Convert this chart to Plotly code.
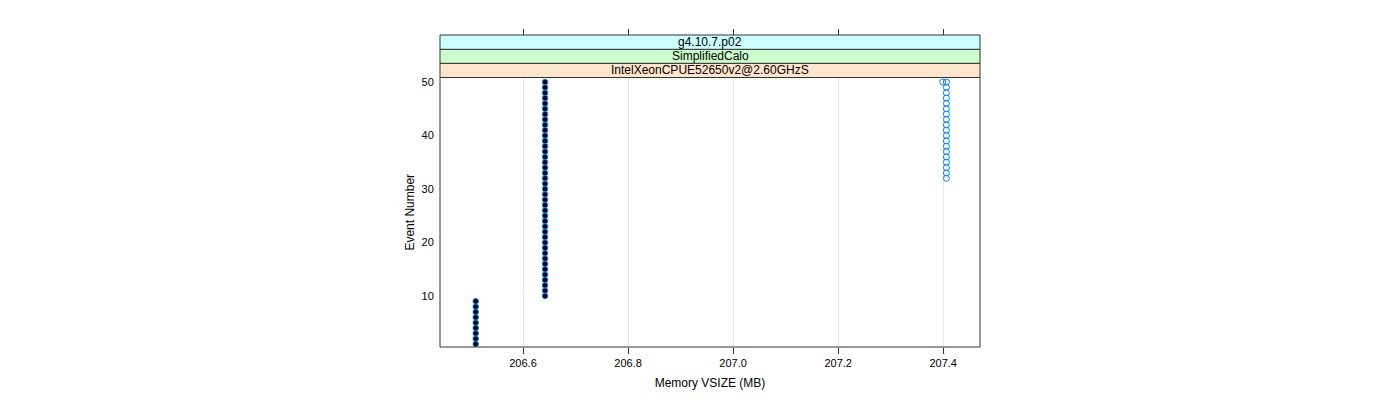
import plotly.graph_objects as go

# ---- data ----
events_black = [1, 2, 3, 4, 5, 6, 7, 8, 9,
                10, 11, 12, 13, 14, 15, 16, 17, 18, 19, 20,
                21, 22, 23, 24, 25, 26, 27, 28, 29, 30,
                31, 32, 33, 34, 35, 36, 37, 38, 39, 40,
                41, 42, 43, 44, 45, 46, 47, 48, 49, 50]
vsize_black = [206.51] * 9 + [206.642] * 41

events_blue = [32, 33, 34, 35, 36, 37, 38, 39, 40, 41,
               42, 43, 44, 45, 46, 47, 48, 49, 50, 50]
vsize_blue = [207.406] * 19 + [207.399]

x_ticks = [206.6, 206.8, 207.0, 207.2, 207.4]
x_tick_labels = ["206.6", "206.8", "207.0", "207.2", "207.4"]
y_ticks = [10, 20, 30, 40, 50]

strip_labels = ["IntelXeonCPUE52650v2@2.60GHzS", "SimplifiedCalo", "g4.10.7.p02"]
strip_colors = ["#ffe5cc", "#ccffcc", "#ccffff"]

# ---- layout constants (page body has an 8px margin) ----
W, H = 1400, 400
ML, MR, MT, MB = 432, 428, 27, 61
plot_h = H - MT - MB
panel_top = (347 - 77.5) / plot_h
strip_bounds = [panel_top, (347 - 63.3) / plot_h, (347 - 49.3) / plot_h, 1.0]
x_range = [206.442, 207.470]
y_range = [0.45, 50.85]
font_family = "Liberation Sans, Arial, sans-serif"

fig = go.Figure()

fig.add_trace(go.Scatter(
    x=vsize_blue, y=events_blue, mode="markers",
    marker=dict(symbol="circle-open", size=6, color="#0080ff", line=dict(width=1, color="#0080ff")),
    showlegend=False, hoverinfo="x+y"))

fig.add_trace(go.Scatter(
    x=vsize_black, y=events_black, mode="markers",
    marker=dict(symbol="circle", size=5.5, color="black", line=dict(width=1, color="#0080ff")),
    showlegend=False, hoverinfo="x+y"))

# invisible trace to activate top axis
fig.add_trace(go.Scatter(x=[x_range[0]], y=[y_range[0]], xaxis="x2", mode="markers",
                         marker=dict(opacity=0), showlegend=False, hoverinfo="skip"))

shapes = []
for i, (lab, col) in enumerate(zip(strip_labels, strip_colors)):
    shapes.append(dict(type="rect", xref="paper", yref="paper",
                       x0=0, x1=1, y0=strip_bounds[i], y1=strip_bounds[i + 1],
                       fillcolor=col, line=dict(color="#333333", width=1), layer="above"))
    fig.add_annotation(x=0.5, y=(strip_bounds[i] + strip_bounds[i + 1]) / 2,
                       xref="paper", yref="paper", text=lab, showarrow=False,
                       font=dict(size=12, color="black", family=font_family),
                       xanchor="center", yanchor="middle")
# panel border
shapes.append(dict(type="rect", xref="paper", yref="paper", x0=0, x1=1, y0=0, y1=panel_top,
                   line=dict(color="#333333", width=1), fillcolor="rgba(0,0,0,0)", layer="above"))

fig.update_layout(
    width=W, height=H,
    margin=dict(l=ML, r=MR, t=MT, b=MB),
    paper_bgcolor="white", plot_bgcolor="white",
    font=dict(family=font_family, size=11, color="black"),
    shapes=shapes,
    xaxis=dict(range=x_range, tickvals=x_ticks, ticktext=x_tick_labels,
               showgrid=True, gridcolor="#e8e8e8", gridwidth=1, zeroline=False,
               ticks="outside", ticklen=6, tickcolor="#333333", showline=False,
               tickfont=dict(size=11), title=dict(text="Memory VSIZE (MB)", font=dict(size=12), standoff=10)),
    xaxis2=dict(range=x_range, tickvals=x_ticks, showticklabels=False, overlaying="x",
                side="top", anchor="free", position=1, ticks="outside", ticklen=6,
                tickcolor="#333333", showgrid=False, zeroline=False, showline=False),
    yaxis=dict(range=y_range, domain=[0, panel_top], tickvals=y_ticks,
               showgrid=False, zeroline=False, ticks="outside", ticklen=3,
               tickcolor="rgba(0,0,0,0)", showline=False,
               tickfont=dict(size=11), title=dict(text="Event Number", font=dict(size=12), standoff=4)),
)

fig.write_html("out.html")
